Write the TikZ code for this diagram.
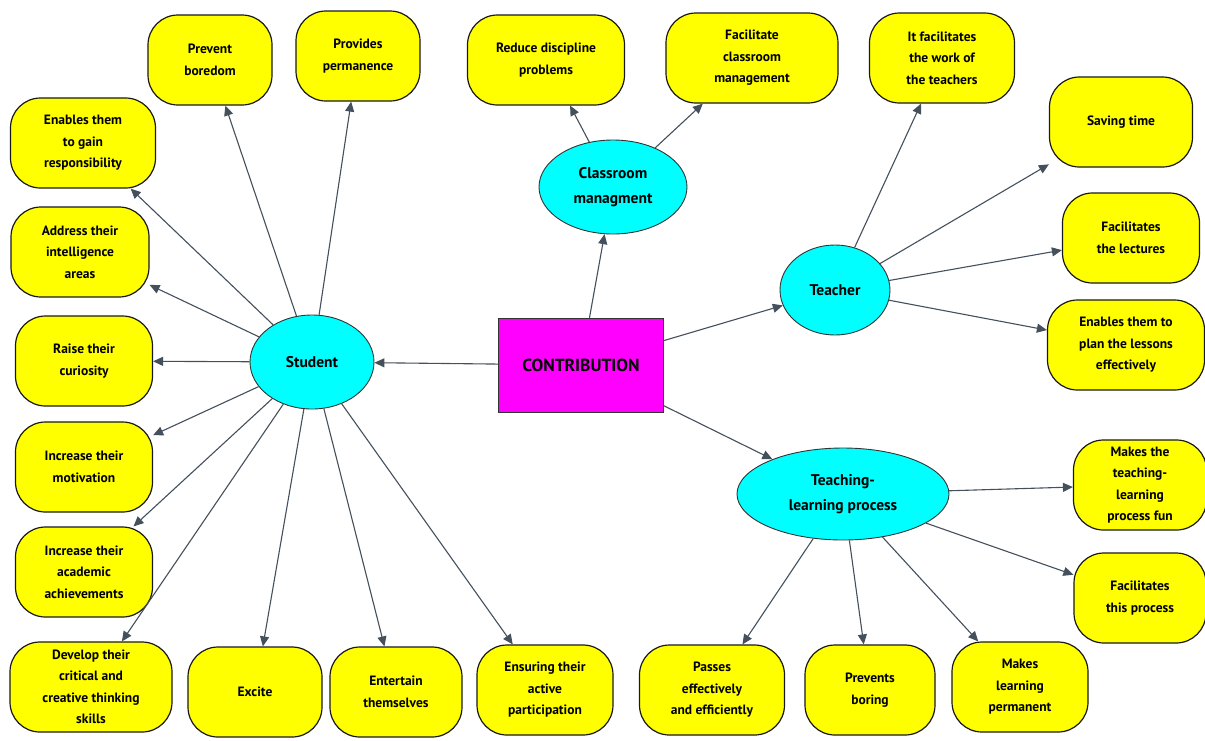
\documentclass[tikz,border=0pt]{standalone}
\usepackage{fontspec}
\setmainfont{PT Sans}
\usetikzlibrary{arrows.meta,shapes.geometric}
\definecolor{linec}{HTML}{44505C}
\definecolor{boxy}{HTML}{FFFF00}
\definecolor{ellc}{HTML}{00FFFF}
\definecolor{mag}{HTML}{FF00FF}
\begin{document}
\begin{tikzpicture}[x=1pt,y=-1pt,
  leaf/.style={draw=black!90,line width=1.2pt,fill=boxy,rounded corners=30pt,minimum width=#1,minimum height=90pt,align=center,inner sep=2pt,font=\bfseries\fontsize{13.5}{21.5}\selectfont},
  leaf/.default=135pt,
  hub/.style={draw=black!80,line width=0.9pt,fill=ellc,ellipse,inner sep=0pt,align=center,font=\bfseries\fontsize{15.5}{25}\selectfont},
  arr/.style={draw=linec,line width=1.1pt,-{Triangle[length=10pt,width=9pt]}}]
\useasboundingbox (0,0) rectangle (1205,740);
\fill[white] (0,0) rectangle (1205,740);
% center
\node[draw=black!80,fill=mag,minimum width=165pt,minimum height=94pt,font=\bfseries\fontsize{17.5}{20}\selectfont] (c) at (581,365) {CONTRIBUTION};
% hubs
\node[hub,minimum width=124pt,minimum height=94pt] (st) at (312,362) {Student};
\node[hub,minimum width=148pt,minimum height=94pt] (cm) at (613,187) {Classroom\\managment};
\node[hub,minimum width=110pt,minimum height=90pt] (te) at (835,290) {Teacher};
\node[hub,minimum width=212pt,minimum height=92pt] (tl) at (843,494) {Teaching-\\learning process};
% student leaves
\node[leaf=124pt] (s1) at (210,60) {Prevent\\boredom};
\node[leaf=124pt] (s2) at (358,56) {Provides\\permanence};
\node[leaf=145pt] (s3) at (83,143) {Enables them\\to gain\\responsibility};
\node[leaf=138pt] (s4) at (80,252) {Address their\\intelligence\\areas};
\node[leaf=137pt] (s5) at (84,361) {Raise their\\curiosity};
\node[leaf=137pt] (s6) at (84,467) {Increase their\\motivation};
\node[leaf=137pt] (s7) at (84,572) {Increase their\\academic\\achievements};
\node[leaf=162pt] (s8) at (91,687) {Develop their\\critical and\\creative thinking\\skills};
\node[leaf=134pt] (s9) at (255,692) {Excite};
\node[leaf=132pt] (s10) at (396,692) {Entertain\\themselves};
\node[leaf=136pt] (s11) at (545,690) {Ensuring their\\active\\participation};
% classroom leaves
\node[leaf=157pt] (c1) at (546,60) {Reduce discipline\\problems};
\node[leaf=172pt] (c2) at (752,58) {Facilitate\\classroom\\management};
% teacher leaves
\node[leaf=145pt] (t1) at (942,58) {It facilitates\\the work of\\the teachers};
\node[leaf=143pt] (t2) at (1121,122) {Saving time};
\node[leaf=137pt] (t3) at (1131,238) {Facilitates\\the lectures};
\node[leaf=157pt] (t4) at (1126,345) {Enables them to\\plan the lessons\\effectively};
% teaching-learning leaves
\node[leaf=133pt] (p1) at (1140,485) {Makes the\\teaching-\\learning\\process fun};
\node[leaf=132pt] (p2) at (1140,598) {Facilitates\\this process};
\node[leaf=136pt] (p3) at (1020,687) {Makes\\learning\\permanent};
\node[leaf=130pt] (p4) at (870,690) {Prevents\\boring};
\node[leaf=145pt] (p5) at (712,690) {Passes\\effectively\\and efficiently};
% connectors
\draw[arr] (c) -- (st);
\draw[arr] (c) -- (cm);
\draw[arr] (c) -- (te);
\draw[arr] (c) -- (tl);
\foreach \n in {s1,s2,s3,s4,s5,s6,s7,s8,s9,s10,s11} \draw[arr] (st) -- (\n);
\foreach \n in {c1,c2} \draw[arr] (cm) -- (\n);
\foreach \n in {t1,t2,t3,t4} \draw[arr] (te) -- (\n);
\foreach \n in {p1,p2,p3,p4,p5} \draw[arr] (tl) -- (\n);
\end{tikzpicture}
\end{document}
